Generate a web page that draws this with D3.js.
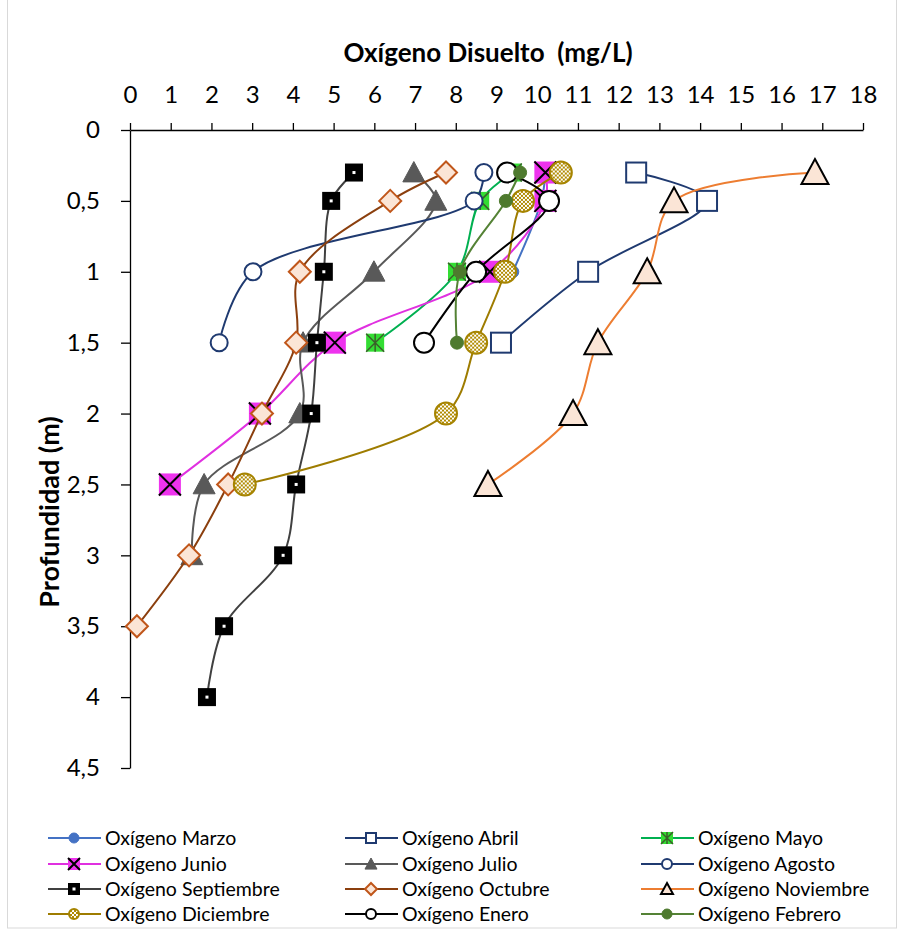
<!DOCTYPE html>
<html>
<head>
<meta charset="utf-8">
<script src="https://cdn.jsdelivr.net/npm/d3@7"></script>
<style>
  body { margin: 0; background: #fff; }
  svg text { font-family: Lato, "Open Sans", sans-serif; fill: #000; }
</style>
</head>
<body>
<div id="chart"></div>
<script>
// depth levels (m) shared by every series, each series uses the first N of them
var depths = [0.3, 0.5, 1, 1.5, 2, 2.5, 3, 3.5, 4];

// dissolved oxygen (mg/L) per month
var marzo      = [10.2, 10.1, 9.4];
var abril      = [12.43, 14.17, 11.25, 9.11];
var mayo       = [9.4, 8.6, 8.03, 6.02];
var junio      = [10.2, 10.2, 8.84, 5.03, 3.19, 0.98];
var julio      = [6.97, 7.51, 5.99, 4.25, 4.17, 1.82, 1.52];
var agosto     = [8.69, 8.45, 3.02, 2.19];
var septiembre = [5.5, 4.94, 4.76, 4.59, 4.45, 4.08, 3.76, 2.31, 1.89];
var octubre    = [7.76, 6.39, 4.17, 4.08, 3.24, 2.41, 1.45, 0.17];
var noviembre  = [16.82, 13.36, 12.7, 11.49, 10.88, 8.79];
var diciembre  = [10.58, 9.65, 9.21, 8.5, 7.76, 2.82];
var enero      = [9.26, 10.29, 8.5, 7.22];
var febrero    = [9.58, 9.23, 8.1, 8.03];

var names = ["Oxígeno Marzo", "Oxígeno Abril", "Oxígeno Mayo", "Oxígeno Junio",
  "Oxígeno Julio", "Oxígeno Agosto", "Oxígeno Septiembre", "Oxígeno Octubre",
  "Oxígeno Noviembre", "Oxígeno Diciembre", "Oxígeno Enero", "Oxígeno Febrero"];

var xTicks = d3.range(0, 19, 1);
var yTicks = [0, 0.5, 1, 1.5, 2, 2.5, 3, 3.5, 4, 4.5];

// style per series: line colour, marker kind, marker size
var STYLES = [
  { line: "#4472C4", mk: "dot",   size: 14, fill: "#4472C4", stroke: "#4472C4" },
  { line: "#1F3A70", mk: "square", size: 22, fill: "#fff", stroke: "#1F3A70" },
  { line: "#00B050", mk: "star",  size: 18, fill: "#33DD33", stroke: "#3A5F2A" },
  { line: "#E030E0", mk: "xsq",   size: 22, fill: "#EE33EE", stroke: "#000" },
  { line: "#595959", mk: "tri",   size: 22, fill: "#595959", stroke: "#595959" },
  { line: "#1F3A70", mk: "circle", size: 19, fill: "#fff", stroke: "#1F3A70" },
  { line: "#404040", mk: "dsq",   size: 18, fill: "#000", stroke: "#000" },
  { line: "#8B3F0E", mk: "diamond", size: 22, fill: "#FBE5D6", stroke: "#C0561A" },
  { line: "#ED7D31", mk: "tri",   size: 27, fill: "#FBE5D6", stroke: "#000" },
  { line: "#9E7C00", mk: "check", size: 24, fill: "url(#chk)", stroke: "#A68400" },
  { line: "#000000", mk: "circle", size: 22, fill: "#fff", stroke: "#000" },
  { line: "#548235", mk: "dot",   size: 15, fill: "#4E7A2E", stroke: "#4E7A2E" }
];

var values = [marzo, abril, mayo, junio, julio, agosto, septiembre, octubre,
  noviembre, diciembre, enero, febrero];

var series = values.map(function (v, i) {
  return {
    name: names[i],
    style: STYLES[i],
    points: v.map(function (o, j) { return { ox: o, depth: depths[j] }; })
  };
});

var width = 898, height = 930;

var svg = d3.select("#chart").append("svg")
  .attr("width", width)
  .attr("height", height);

var defs = svg.append("defs");
var chk = defs.append("pattern").attr("id", "chk")
  .attr("patternUnits", "userSpaceOnUse").attr("width", 4).attr("height", 4);
chk.append("rect").attr("width", 4).attr("height", 4).attr("fill", "#fff");
chk.append("rect").attr("width", 2).attr("height", 2).attr("fill", "#B08A00");
chk.append("rect").attr("x", 2).attr("y", 2).attr("width", 2).attr("height", 2).attr("fill", "#B08A00");

svg.append("rect")
  .attr("x", 7.5).attr("y", -1)
  .attr("width", 889).attr("height", 929)
  .attr("fill", "none").attr("stroke", "#D9D9D9");

var x = d3.scaleLinear().domain([0, 18]).range([130, 863]);
var y = d3.scaleLinear().domain([0, 4.5]).range([130, 768]);

// top axis
var xAxis = svg.append("g")
  .attr("transform", "translate(0," + y(0) + ")")
  .call(d3.axisTop(x).tickValues(xTicks).tickSize(7).tickSizeOuter(0).tickPadding(20));
xAxis.selectAll("text").style("font-size", "24px");

var yAxis = svg.append("g")
  .attr("transform", "translate(" + x(0) + ",0)")
  .call(d3.axisLeft(y).tickValues(yTicks).tickSize(9).tickSizeOuter(0).tickPadding(21)
    .tickFormat(function (d) { return String(d).replace(".", ","); }));
yAxis.selectAll("text").style("font-size", "24px");

svg.selectAll(".domain, .tick line").attr("stroke", "#000").attr("stroke-width", 1.3);

svg.append("text")
  .attr("x", 488).attr("y", 62)
  .attr("text-anchor", "middle")
  .style("font-size", "26px").style("font-weight", "bold")
  .style("white-space", "pre")
  .text("Oxígeno Disuelto  (mg/L)");

svg.append("text")
  .attr("transform", "translate(59,512) rotate(-90)")
  .attr("text-anchor", "middle")
  .style("font-size", "27px").style("font-weight", "bold")
  .text("Profundidad (m)");

function drawMarker(g, st, s) {
  var h = s / 2;
  if (st.mk === "dot" || st.mk === "circle" || st.mk === "check") {
    g.append("circle").attr("r", h - 1)
      .attr("fill", st.fill).attr("stroke", st.stroke)
      .attr("stroke-width", st.mk === "dot" ? 1 : 2);
  } else if (st.mk === "square") {
    g.append("rect").attr("x", -h + 1).attr("y", -h + 1)
      .attr("width", s - 2).attr("height", s - 2)
      .attr("fill", st.fill).attr("stroke", st.stroke).attr("stroke-width", 2);
  } else if (st.mk === "dsq") {
    g.append("rect").attr("x", -h).attr("y", -h)
      .attr("width", s).attr("height", s)
      .attr("fill", "#000");
    g.append("rect").attr("x", -1.5).attr("y", -1.5)
      .attr("width", 3).attr("height", 3).attr("fill", "#fff");
  } else if (st.mk === "xsq" || st.mk === "star") {
    g.append("rect").attr("x", -h).attr("y", -h)
      .attr("width", s).attr("height", s).attr("fill", st.fill);
    var p = "M" + (-h) + "," + (-h) + "L" + h + "," + h + "M" + h + "," + (-h) + "L" + (-h) + "," + h;
    if (st.mk === "star") p += "M0," + (-h) + "L0," + h;
    g.append("path").attr("d", p).attr("stroke", st.stroke).attr("stroke-width", st.mk === "star" ? 1.5 : 2);
  } else if (st.mk === "tri") {
    g.append("path")
      .attr("d", "M0," + (-h) + "L" + h + "," + (h * 0.85) + "L" + (-h) + "," + (h * 0.85) + "Z")
      .attr("fill", st.fill).attr("stroke", st.stroke)
      .attr("stroke-width", st.stroke === "#000" ? 2 : 1);
  } else if (st.mk === "diamond") {
    g.append("path")
      .attr("d", "M0," + (-h) + "L" + h + ",0L0," + h + "L" + (-h) + ",0Z")
      .attr("fill", st.fill).attr("stroke", st.stroke).attr("stroke-width", 2);
  }
}

var line = d3.line()
  .x(function (d) { return x(d.ox); })
  .y(function (d) { return y(d.depth); })
  .curve(d3.curveCatmullRom.alpha(0.5));

series.forEach(function (s) {
  var g = svg.append("g");
  g.append("path")
    .datum(s.points)
    .attr("fill", "none")
    .attr("stroke", s.style.line)
    .attr("stroke-width", 2)
    .attr("d", line);
  s.points.forEach(function (d) {
    var m = g.append("g").attr("transform", "translate(" + x(d.ox) + "," + y(d.depth) + ")");
    drawMarker(m, s.style, s.style.size);
  });
});

// legend, 3 columns x 4 rows
var legX = [48, 345, 641];
var legY = [838, 864, 889, 914];
series.forEach(function (s, i) {
  var lx = legX[i % 3], ly = legY[Math.floor(i / 3)];
  var g = svg.append("g");
  g.append("line")
    .attr("x1", lx).attr("x2", lx + 53)
    .attr("y1", ly).attr("y2", ly)
    .attr("stroke", s.style.line).attr("stroke-width", 2);
  var m = g.append("g").attr("transform", "translate(" + (lx + 26) + "," + ly + ")");
  drawMarker(m, s.style, 12);
  g.append("text")
    .attr("x", lx + 57).attr("y", ly + 7)
    .style("font-size", "19.5px")
    .text(s.name);
});
</script>
</body>
</html>
